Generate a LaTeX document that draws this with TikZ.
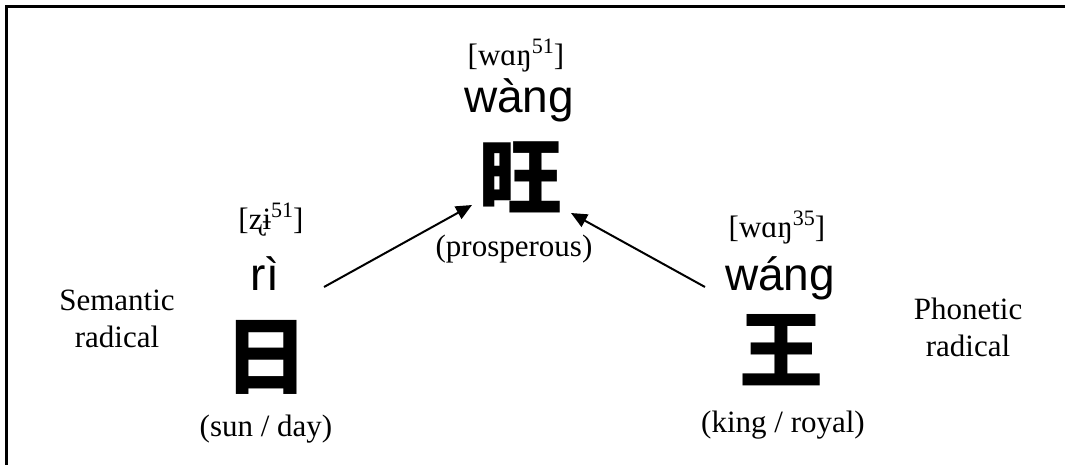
\documentclass[tikz,border=0pt]{standalone}
\usepackage{fontspec}
\setmainfont{Liberation Serif}
\newfontfamily\pinyin{Liberation Sans}
\newfontfamily\cjk{Noto Sans CJK SC}
\usetikzlibrary{arrows.meta}

% small raised tone numbers after an IPA transcription
\newcommand{\tone}[1]{\raisebox{12pt}{\fontsize{22}{22}\selectfont #1}}

\tikzset{
  gloss/.style={anchor=base, inner sep=0pt, font=\fontsize{31}{31}\selectfont},
  ipa/.style={anchor=base, inner sep=0pt, font=\fontsize{31}{31}\selectfont},
  py/.style={anchor=base, inner sep=0pt, font=\pinyin\fontsize{46}{46}\selectfont},
  hanzi/.style={inner sep=0pt, font=\cjk\bfseries\fontsize{84}{84}\selectfont},
  label/.style={align=center, inner sep=0pt, font=\fontsize{31}{37}\selectfont},
  arr/.style={line width=2pt, -{Triangle[length=16pt,width=14pt]}},
  frame/.style={line width=3pt, line cap=rect}
}

\begin{document}
\begin{tikzpicture}[x=1pt, y=-1pt]
\useasboundingbox (0,0) rectangle (1065,464);

% outer frame (left and top edges)
\draw[frame] (6,464) -- (6,6) -- (1065,6);

% compound character
\node[ipa]  (ipaW) at (516,65)  {[wɑŋ\tone{51}]};
\node[py]   (pyW)  at (519,112) {wàng};
\node[hanzi](chW)  at (520,177) {旺};
\node[gloss](glW)  at (514,256) {(prosperous)};

% semantic radical
\node[ipa]  (ipaR) at (271,229) {[ʐɨ\tone{51}]};
\node[py]   (pyR)  at (265,290) {rì};
\node[hanzi](chR)  at (266,357) {日};
\node[gloss](glR)  at (266,436) {(sun / day)};
\node[label](semL) at (117,319) {Semantic\\radical};

% phonetic radical
\node[ipa]  (ipaP) at (777,237) {[wɑŋ\tone{35}]};
\node[py]   (pyP)  at (780,290) {wáng};
\node[hanzi](chP)  at (781,350) {王};
\node[gloss](glP)  at (783,432) {(king / royal)};
\node[label](phoL) at (968,327) {Phonetic\\radical};

% arrows from the components to the compound
\coordinate (rOut) at (324,287);
\coordinate (wInL) at (472,205);
\coordinate (pOut) at (705,287);
\coordinate (wInR) at (571,213);
\draw[arr] (rOut) -- (wInL);
\draw[arr] (pOut) -- (wInR);
\end{tikzpicture}
\end{document}
